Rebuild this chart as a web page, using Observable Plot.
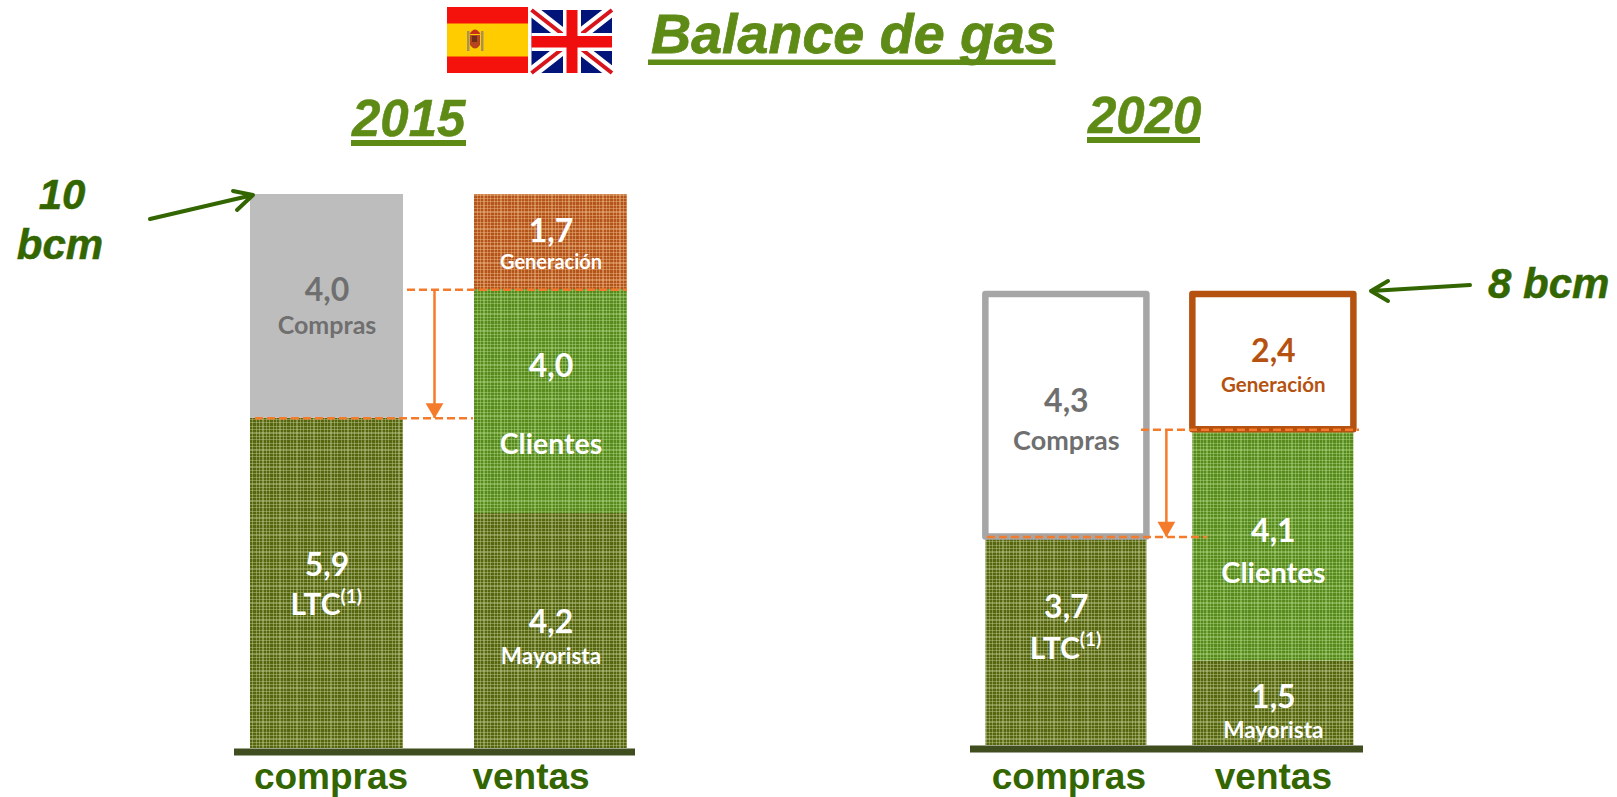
<!DOCTYPE html>
<html lang="es">
<head>
<meta charset="utf-8">
<title>Balance de gas</title>
<script src="https://cdn.jsdelivr.net/npm/d3@7"></script>
<script src="https://cdn.jsdelivr.net/npm/@observablehq/plot@0.6"></script>
<style>
  html, body { margin: 0; background: #fff; overflow: hidden; }
  #page { position: relative; width: 1617px; height: 797px; }
  #overlay { position: absolute; left: 0; top: 0; pointer-events: none; }
  #overlay text { font-family: "Liberation Sans", Arial, sans-serif; font-weight: 700; font-style: italic; }
</style>
</head>
<body>
<div id="page"></div>
<script>
// ---- Data ----
const categories = ["compras", "ventas"];
const buyLabels = ["LTC", "Compras"];
const saleLabels = ["Mayorista", "Clientes", "Generación"];
const buy2015 = [5.9, 4.0];
const sale2015 = [4.2, 4.0, 1.7];
const buy2020 = [3.7, 4.3];
const sale2020 = [1.5, 4.1, 2.4];
const totals = ["10", "bcm", "8 bcm"];
const pageTitle = "Balance de gas";
const years = ["2015", "2020"];

// ---- Styles ----
const GREEN = "#5e8a16", DARK = "#336600", ORANGE = "#f47b2b", BASE = "#3f4d1f";
const MESH = {
  ltc: ["#55660f", "rgba(205,212,160,.40)"],
  may: ["#55660f", "rgba(205,212,160,.40)"],
  cli: ["#568a1c", "rgba(195,225,150,.38)"],
  gen: ["#b4541a", "rgba(245,200,150,.40)"]
};
const meshFill = k => `url(#mesh-${k})`;
const look2015 = {
  LTC: {fill: meshFill("ltc"), stroke: "none", ink: "#fff", v: -18, n: 22, size: 30},
  Compras: {fill: "#bdbdbd", stroke: "none", ink: "#6f6f6f", v: -16, n: 20, size: 25},
  Mayorista: {fill: meshFill("may"), stroke: "none", ink: "#fff", v: -8, n: 26, size: 22.5},
  Clientes: {fill: meshFill("cli"), stroke: "none", ink: "#fff", v: -35, n: 43, size: 28.5},
  "Generación": {fill: meshFill("gen"), stroke: "none", ink: "#fff", v: -10, n: 21, size: 20}
};
const look2020 = {
  LTC: {fill: meshFill("ltc"), stroke: "none", ink: "#fff", v: -33, n: 8, size: 30},
  Compras: {fill: "#fff", stroke: "#a6a6a6", ink: "#6f6f6f", v: -14, n: 26, size: 27},
  Mayorista: {fill: meshFill("may"), stroke: "none", ink: "#fff", v: -5, n: 28, size: 22.5},
  Clientes: {fill: meshFill("cli"), stroke: "none", ink: "#fff", v: -14, n: 28, size: 29},
  "Generación": {fill: "#fff", stroke: "#b5520f", ink: "#b5520f", v: -10, n: 23, size: 20.5}
};

// ---- Helpers ----
function stackRows(category, labels, values, look) {
  let top = 0;
  return labels.map((label, i) => {
    const y1 = top; top += values[i];
    return {category, label, value: values[i], y1, y2: top, mid: (y1 + top) / 2, ...look[label]};
  });
}
const comma = v => v.toFixed(1).replace(".", ",");

function meshDefs() {
  const bands = [[1, 1], [4, 1], [7, 2], [11, 1], [14, 1]];
  const tiles = Object.entries(MESH).map(([k, [base, light]]) => `
    <pattern id="mesh-${k}" patternUnits="userSpaceOnUse" width="17" height="17">
      <rect width="17" height="17" fill="${base}"/>
      ${bands.map(([p, w]) => `<rect x="${p}" width="${w}" height="17" fill="${light}"/><rect y="${p}" width="17" height="${w}" fill="${light}"/>`).join("")}
    </pattern>`).join("");
  return () => d3.create("svg:defs").html(tiles).node();
}

function panel(cfg) {
  const rows = [
    ...stackRows(categories[0], buyLabels, cfg.buy, cfg.look),
    ...stackRows(categories[1], saleLabels, cfg.sale, cfg.look)
  ];
  const textFont = {fontFamily: "Lato, sans-serif", fontWeight: 700, textAnchor: "middle"};
  const textMarks = rows.flatMap(r => {
    const base = {x: "category", y: "mid", fill: r.ink, ...textFont};
    const marks = [Plot.text([r], {...base, text: d => comma(d.value), fontSize: 32, dy: r.v})];
    if (r.label === "LTC") {
      marks.push(Plot.text([r], {...base, text: "label", fontSize: r.size, dy: r.n, textAnchor: "end", dx: 13.5}));
      marks.push(Plot.text([r], {...base, text: () => "(1)", fontSize: 19, dy: r.n - 9, textAnchor: "start", dx: 13.5}));
    } else {
      marks.push(Plot.text([r], {...base, text: "label", fontSize: r.size, dy: r.n}));
    }
    return marks;
  });
  const dash = {stroke: ORANGE, strokeWidth: 2.5, strokeDasharray: "8,4"};
  const axis = {anchor: "bottom", tickSize: 0, tickPadding: cfg.tickPadding, label: null, fontSize: 37,
    fontWeight: 700, fontFamily: "'Liberation Sans', Arial, sans-serif", color: DARK};
  return Plot.plot({
    width: cfg.width, height: 797,
    marginLeft: cfg.marginLeft, marginRight: cfg.marginRight, marginTop: cfg.marginTop, marginBottom: cfg.marginBottom,
    style: {position: "absolute", left: cfg.left + "px", top: "0px", overflow: "visible", background: "transparent"},
    x: {type: "band", domain: categories, axis: null, round: false, ...cfg.band},
    y: {domain: [0, cfg.total], axis: null},
    color: {type: "identity"},
    marks: [
      meshDefs(),
      Plot.barY(rows, {x: "category", y1: "y1", y2: "y2", fill: "fill", stroke: "stroke", strokeWidth: 6.5, strokeLinejoin: "round"}),
      Plot.ruleY([0], {stroke: BASE, strokeWidth: 7, dy: 3.5}),
      Plot.ruleY([cfg.lowerLevel], {...dash, ...cfg.lowerInset}),
      Plot.ruleY([cfg.upperLevel], {...dash, ...cfg.upperInset}),
      Plot.ruleX([categories[0]], {y1: cfg.upperLevel, y2: cfg.lowerLevel, dx: cfg.arrowDx, stroke: ORANGE, strokeWidth: 2.5}),
      Plot.dot([categories[0]], {x: d => d, y: () => cfg.lowerLevel, symbol: "triangle2", rotate: 180, r: 8.5,
        fill: ORANGE, dx: cfg.arrowDx, dy: -10}),
      ...textMarks,
      Plot.axisX({...axis, ticks: [categories[0]], dx: cfg.labelDx[0]}),
      Plot.axisX({...axis, ticks: [categories[1]], dx: cfg.labelDx[1]})
    ]
  });
}

// ---- Panels ----
const page = document.getElementById("page");
page.append(panel({
  buy: buy2015, sale: sale2015, look: look2015, total: d3.sum(sale2015),
  left: 0, width: 808, marginLeft: 234, marginRight: 173, marginTop: 194, marginBottom: 49,
  band: {paddingInner: 0.317, paddingOuter: 0.0536, align: 0.667},
  tickPadding: 14, labelDx: [4, -20],
  lowerLevel: buy2015[0], upperLevel: sale2015[0] + sale2015[1],
  lowerInset: {insetLeft: 21, insetRight: 162}, upperInset: {insetLeft: 173, insetRight: 8},
  arrowDx: 107.5
}));
page.append(panel({
  buy: buy2020, sale: sale2020, look: look2020, total: d3.sum(sale2020),
  left: 808, width: 809, marginLeft: 162, marginRight: 254, marginTop: 294, marginBottom: 52,
  band: {paddingInner: 0.222, paddingOuter: 0.0603, align: 0.615},
  tickPadding: 17, labelDx: [2.5, 0],
  lowerLevel: buy2020[0], upperLevel: sale2020[0] + sale2020[1],
  lowerInset: {insetLeft: 17, insetRight: 156}, upperInset: {insetLeft: 171, insetRight: 4},
  arrowDx: 100
}));

// ---- Page annotations: title, years, totals, flags, pointers ----
page.insertAdjacentHTML("beforeend", `
<svg id="overlay" width="1617" height="797" viewBox="0 0 1617 797">
  <!-- flags -->
  <g>
    <rect x="447" y="7" width="81" height="66" fill="#f5120c"/>
    <rect x="447" y="23.5" width="81" height="33" fill="#ffcc00"/>
    <rect x="467" y="31" width="2.5" height="20" fill="#a9925a"/>
    <rect x="481" y="31" width="2.5" height="20" fill="#a9925a"/>
    <path d="M470 35h10v10q-5 7-10 0z" fill="#b5451c"/>
    <rect x="472" y="36" width="5" height="6" fill="#6b2f1a"/>
    <path d="M469.5 34q5.5-9 11 0z" fill="#c7311a"/>
  </g>
  <g>
    <rect x="531.5" y="10" width="80.5" height="63" fill="#00147a"/>
    <path d="M531.5 10L612 73M612 10L531.5 73" stroke="#fff" stroke-width="12"/>
    <path d="M531.5 10L612 73M612 10L531.5 73" stroke="#d8141c" stroke-width="4"/>
    <rect x="563" y="10" width="18" height="63" fill="#fff"/>
    <rect x="531.5" y="33" width="80.5" height="18" fill="#fff"/>
    <rect x="566.5" y="10" width="11" height="63" fill="#f00d0d"/>
    <rect x="531.5" y="36" width="80.5" height="11.5" fill="#f00d0d"/>
  </g>
  <!-- title and years -->
  <text x="651" y="53" font-size="55.6" fill="${GREEN}" stroke="${GREEN}" stroke-width="0.8">${pageTitle}</text>
  <rect x="648" y="59.5" width="407.5" height="5.5" fill="${GREEN}"/>
  <text x="352" y="136" font-size="51" fill="${GREEN}" stroke="${GREEN}" stroke-width="0.5">${years[0]}</text>
  <rect x="351" y="140" width="115" height="6" fill="${GREEN}"/>
  <text x="1088" y="133" font-size="51" fill="${GREEN}" stroke="${GREEN}" stroke-width="0.5">${years[1]}</text>
  <rect x="1087" y="137" width="113" height="6" fill="${GREEN}"/>
  <!-- totals -->
  <text x="62" y="209" font-size="42" text-anchor="middle" fill="${DARK}" stroke="${DARK}" stroke-width="0.5">${totals[0]}</text>
  <text x="60" y="259" font-size="42" text-anchor="middle" fill="${DARK}" stroke="${DARK}" stroke-width="0.5">${totals[1]}</text>
  <text x="1488" y="298" font-size="42" fill="${DARK}" stroke="${DARK}" stroke-width="0.5">${totals[2]}</text>
  <g fill="none" stroke="${DARK}" stroke-width="4" stroke-linecap="round" stroke-linejoin="round">
    <path d="M150 219L253 195M233 191L253 195L237 210"/>
    <path d="M1470 285L1371 291M1388 281L1371 291L1388 301"/>
  </g>
</svg>`);
</script>
</body>
</html>
